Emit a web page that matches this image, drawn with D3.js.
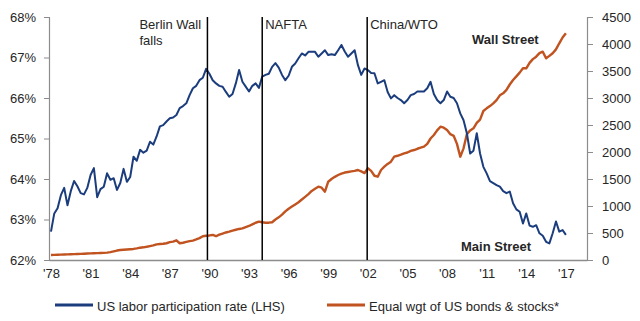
<!DOCTYPE html>
<html lang="en">
<head>
<meta charset="UTF-8">
<title>Main Street vs Wall Street</title>
<style>
  body { margin: 0; background: #fff; }
  svg text { font-family: "Liberation Sans", Arial, sans-serif; fill: #262626; }
</style>
</head>
<body>
<div id="chart-area"></div>
<script src="https://d3js.org/d3.v7.min.js"></script>
<script>
// quarterly points, first value is Q1 1978, last is Q1 2017
const startYear = 1978;
const step = 0.25;

const laborRate = [
  62.70, 63.15, 63.28, 63.60,  63.78, 63.35, 63.70, 63.95,  63.82, 63.65, 63.62, 63.78,
  64.10, 64.27, 63.55, 63.75,  63.81, 64.14, 63.98, 64.02,  63.73, 63.90, 64.25, 63.93,
  64.05, 64.55, 64.45, 64.72,  64.65, 64.70, 64.92, 64.85,  65.05, 65.30, 65.33, 65.42,
  65.50, 65.52, 65.58, 65.75,  65.80, 65.87, 66.07, 66.24,  66.30, 66.44, 66.50, 66.72,
  66.60, 66.44, 66.36, 66.30,  66.28, 66.15, 66.03, 66.10,  66.36, 66.69, 66.40, 66.28,
  66.16, 66.30, 66.36, 66.25,  66.53, 66.57, 66.60, 66.77,  66.86, 66.75, 66.57, 66.44,
  66.55, 66.77, 66.85, 66.98,  67.10, 67.05, 67.14, 67.14,  67.14, 67.02, 67.10, 67.18,
  67.06, 67.08, 67.06, 67.18,  67.31, 67.15, 67.02, 67.10,  67.18, 66.81, 66.57, 66.73,
  66.69, 66.62, 66.61, 66.36,  66.40, 66.44, 66.15, 65.99,  66.07, 66.00, 65.95, 65.87,
  65.95, 66.07, 66.10, 66.16,  66.16, 66.16, 66.24, 66.40,  66.10, 65.95, 65.87, 65.95,
  66.16, 66.03, 66.00, 65.87,  65.62, 65.45, 65.13, 64.63,  64.70, 65.13, 64.63, 64.30,
  64.14, 63.95, 63.90, 63.85,  63.81, 63.70, 63.65, 63.69,  63.40, 63.25, 63.19, 62.90,
  63.15, 62.85, 62.82, 62.86,  62.66, 62.60, 62.45, 62.41,  62.66, 62.95, 62.70, 62.74,
  62.62
];

const bondsStocks = [
    93,   95,   97,  100,   103,  105,  107,  109,   111,  113,  116,  120,
   123,  125,  127,  130,   132,  136,  145,  160,   175,  185,  190,  195,
   200,  205,  215,  228,   235,  245,  258,  270,   290,  296,  300,  310,
   330,  340,  365,  310,   320,  335,  350,  360,   380,  405,  440,  450,
   455,  463,  440,  470,   490,  510,  525,  545,   560,  575,  586,  610,
   630,  660,  690,  710,   700,  690,  691,  700,   750,  790,  840,  900,
   950,  990, 1030, 1070,  1120, 1170, 1220, 1280,  1320, 1358, 1340, 1265,
  1450, 1500, 1540, 1574,  1600, 1620, 1630, 1640,  1650, 1667, 1640, 1610,
  1698, 1650, 1560, 1543,  1667, 1728, 1780, 1821,  1913, 1930, 1950, 1975,
  1990, 2020, 2037, 2060,  2080, 2099, 2150, 2250,  2315, 2400, 2469, 2450,
  2407, 2330, 2300, 2150,  1913, 2068, 2330, 2400,  2438, 2540, 2600, 2760,
  2809, 2850, 2901, 2960,  3050, 3087, 3150, 3250,  3333, 3400, 3470, 3550,
  3550, 3650, 3720, 3765,  3830, 3858, 3735, 3780,  3828, 3900, 4013, 4120,
  4198
];

const yearTicks = d3.range(1978, 2018, 3);
const leftTicks = [62, 63, 64, 65, 66, 67, 68];
const rightTicks = [0, 500, 1000, 1500, 2000, 2500, 3000, 3500, 4000, 4500];

const events = [
  { year: 1989.85, lines: ['Berlin Wall', 'falls'], side: 'left' },
  { year: 1994.0, lines: ['NAFTA'], side: 'right' },
  { year: 2001.95, lines: ['China/WTO'], side: 'right' }
];

const legendItems = [
  { label: 'US labor participation rate (LHS)', color: '#1b3d7d', x: 55 },
  { label: 'Equal wgt of US bonds & stocks*', color: '#c0531f', x: 327 }
];

const width = 640, height = 321;
const plot = { left: 49, right: 587, top: 17, bottom: 260 };

const svg = d3.select('#chart-area').append('svg')
  .attr('width', width)
  .attr('height', height);

const x = d3.scaleLinear().domain([1977.85, 2018.6]).range([plot.left, plot.right]);
const yLeft = d3.scaleLinear().domain([62, 68]).range([plot.bottom, plot.top]);
const yRight = d3.scaleLinear().domain([0, 4500]).range([plot.bottom, plot.top]);

const axisColor = '#8c8c8c';

const gLeft = svg.append('g')
  .attr('transform', `translate(${plot.left},0)`)
  .call(d3.axisLeft(yLeft).tickValues(leftTicks).tickSize(5).tickPadding(8).tickFormat(d => d + '%'));

const gRight = svg.append('g')
  .attr('transform', `translate(${plot.right},0)`)
  .call(d3.axisRight(yRight).tickValues(rightTicks).tickSize(6).tickPadding(9).tickFormat(d3.format('d')));

const gBottom = svg.append('g')
  .attr('transform', `translate(0,${plot.bottom})`)
  .call(d3.axisBottom(x).tickValues(yearTicks).tickSize(0).tickPadding(9)
    .tickFormat(d => "'" + String(d).slice(2)));

[gLeft, gRight, gBottom].forEach(g => {
  g.selectAll('path, line').attr('stroke', axisColor);
  g.selectAll('text').attr('font-size', 13).attr('fill', '#262626');
  g.select('.domain').attr('stroke-width', 1.2);
});
gBottom.select('.domain').attr('stroke-width', 1.6);

const qx = (d, i) => x(startYear + i * step);

svg.append('path')
  .datum(bondsStocks)
  .attr('fill', 'none')
  .attr('stroke', '#c0531f')
  .attr('stroke-width', 2.4)
  .attr('stroke-linejoin', 'round')
  .attr('d', d3.line().x(qx).y(d => yRight(d)));

svg.append('path')
  .datum(laborRate)
  .attr('fill', 'none')
  .attr('stroke', '#1b3d7d')
  .attr('stroke-width', 2)
  .attr('stroke-linejoin', 'round')
  .attr('d', d3.line().x(qx).y(d => yLeft(d)));

// event markers
const ev = svg.append('g').selectAll('g').data(events).join('g');

ev.append('line')
  .attr('x1', d => x(d.year)).attr('x2', d => x(d.year))
  .attr('y1', plot.top).attr('y2', plot.bottom)
  .attr('stroke', '#000')
  .attr('stroke-width', 1.5);

ev.each(function (d) {
  const t = d3.select(this).append('text')
    .attr('font-size', 13)
    .attr('text-anchor', 'start');
  const tx = d.side === 'left' ? x(d.year) - 68 : x(d.year) + 3;
  d.lines.forEach((s, i) => {
    t.append('tspan').attr('x', tx).attr('y', 29 + i * 16).text(s);
  });
});

svg.append('text')
  .attr('x', 472).attr('y', 44)
  .attr('font-size', 13).attr('font-weight', 'bold')
  .text('Wall Street');

svg.append('text')
  .attr('x', 461).attr('y', 251)
  .attr('font-size', 13).attr('font-weight', 'bold')
  .text('Main Street');

// legend
const lg = svg.append('g').selectAll('g').data(legendItems).join('g')
  .attr('transform', d => `translate(${d.x},305)`);

lg.append('line')
  .attr('x1', 0).attr('x2', 38)
  .attr('stroke', d => d.color)
  .attr('stroke-width', 3);

lg.append('text')
  .attr('x', 42).attr('y', 6)
  .attr('font-size', 13)
  .text(d => d.label);
</script>
</body>
</html>
